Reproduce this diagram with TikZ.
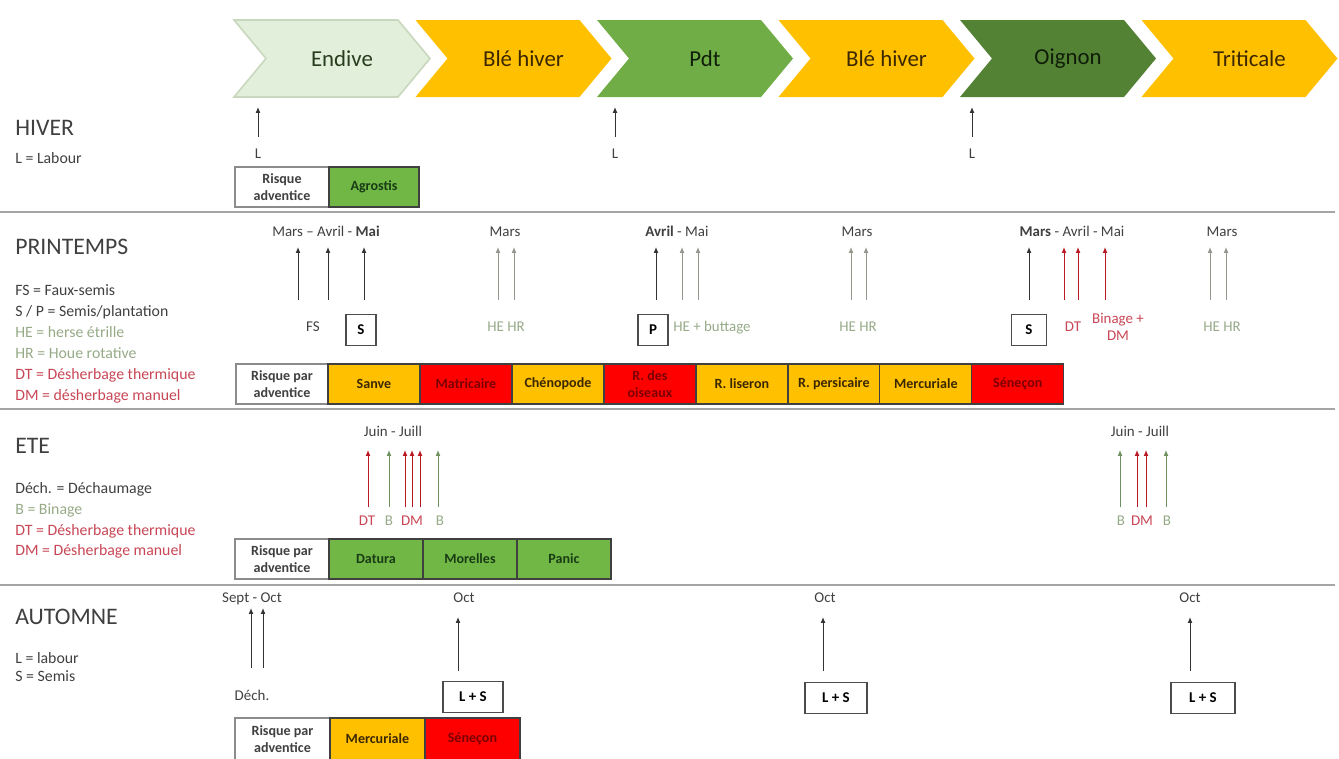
\documentclass[tikz,border=0pt]{standalone}
\usepackage{fontspec}
\setmainfont{Carlito}
\usetikzlibrary{positioning, arrows.meta}
\definecolor{orangeC}{RGB}{255, 192, 0}
\definecolor{rougeC}{RGB}{255, 0, 0}
\definecolor{vertC}{RGB}{112, 183, 70}
\definecolor{vertPdt}{RGB}{112, 173, 71}
\definecolor{vertFonce}{RGB}{84, 130, 53}
\definecolor{vertPale}{RGB}{226, 239, 218}
\definecolor{bordPale}{RGB}{200, 215, 190}
\definecolor{grisVert}{RGB}{150, 170, 135}
\definecolor{rougeT}{RGB}{200, 70, 85}
\definecolor{rougeF}{RGB}{185, 25, 35}
\definecolor{fgris}{RGB}{150, 150, 140}
\definecolor{fvert}{RGB}{110, 145, 95}
\definecolor{brunT}{RGB}{60, 40, 0}
\definecolor{rougeTxt}{RGB}{125, 0, 0}
\definecolor{vertTxt}{RGB}{25, 60, 20}
\definecolor{txtEnd}{RGB}{40, 60, 30}
\definecolor{txtFonce}{RGB}{15, 30, 8}
\definecolor{grisTxt}{RGB}{64, 64, 64}
\definecolor{sepC}{RGB}{165, 165, 165}
\tikzset{
    titre/.style={anchor=west, inner sep=0pt, text=grisTxt, font=\fontsize{13.5}{15}\selectfont},
    leg/.style={anchor=west, inner sep=0pt, text=grisTxt, font=\fontsize{9}{10}\selectfont, text height=6pt, text depth=1.8pt},
    mois/.style={inner sep=0pt, text=grisTxt, font=\fontsize{8.5}{10}\selectfont, text height=6pt, text depth=1.8pt},
    lab/.style={inner sep=0pt, text=grisTxt, font=\fontsize{8.5}{10}\selectfont, text height=6pt, text depth=1.8pt},
    chevtxt/.style={inner sep=0pt, font=\fontsize{13}{15}\selectfont},
    op/.style={draw=black!70, line width=0.6pt, minimum width=0.6cm, minimum height=0.62cm, inner sep=0pt, font=\bfseries\fontsize{8.5}{10}\selectfont},
    cell/.style={draw=black!75, line width=0.7pt, minimum width=1.86cm, minimum height=0.8cm, inner sep=1pt, outer sep=0pt, align=center, font=\bfseries\fontsize{8}{9.5}\selectfont},
    risque/.style={cell, fill=white, draw=black!45, text=grisTxt},
    orng/.style={cell, fill=orangeC, text=brunT},
    rge/.style={cell, fill=rougeC, text=rougeTxt},
    vrt/.style={cell, fill=vertC, text=vertTxt},
    fn/.style={-{Latex[length=3.4pt,width=2.8pt]}, line width=0.55pt, draw=black!80},
    fg/.style={fn, draw=fgris},
    fr/.style={fn, draw=rougeF},
    fv/.style={fn, draw=fvert},
    sepa/.style={draw=sepC, line width=1.2pt},
}
\begin{document}
\begin{tikzpicture}[x=0.02cm, y=-0.02cm]
    \useasboundingbox (0,0) rectangle (1339,758);
    \clip (0,0) rectangle (1339,758);

    \foreach \x/\f/\d/\t/\nom/\lbl in {234/vertPale/bordPale/txtEnd/cEnd/Endive,
        415.5/orangeC/none/brunT/cBle1/Blé hiver, 597/vertPdt/none/txtFonce/cPdt/Pdt,
        778.5/orangeC/none/brunT/cBle2/Blé hiver, 960/vertFonce/none/txtFonce/cOig/Oignon,
        1141.5/orangeC/none/brunT/cTri/Triticale} {
        \filldraw[fill=\f, draw=\d, line width=0.9pt] (\x,20) -- ++(164,0) -- ++(32,38.5)
            -- ++(-32,38.5) -- ++(-164,0) -- ++(32,-38.5) -- cycle;
        \node[chevtxt, text=\t] (\nom) at (\x+108,58.5) {\lbl};
    }

    % hiver
    \node[titre] (tHiv) at (15,128) {HIVER};
    \node[leg] (lHiv) at (15,160) {L = Labour};
    \foreach \n/\x in {1/258, 2/615, 3/972} {
        \coordinate (hb\n) at (\x,137);
        \coordinate (hh\n) at (\x,107);
        \draw[fn] (hb\n) -- (hh\n);
        \node[lab] (hL\n) at (\x,155) {L};
    }
    \node[risque, anchor=north west, minimum width=1.88cm] (hR) at (235,167) {Risque\\adventice};
    \node[vrt, right=0pt of hR, minimum width=1.8cm] (hAgr) {Agrostis};
    \draw[sepa] (0,212) -- (1335,212);

    % printemps
    \node[titre] (tPri) at (15,247) {PRINTEMPS};
    \node[leg] (lPri1) at (15,292) {FS = Faux-semis};
    \node[leg] (lPri2) at (15,313) {S / P = Semis/plantation};
    \node[leg, text=grisVert] (lPri3) at (15,334) {HE = herse étrille};
    \node[leg, text=grisVert] (lPri4) at (15,355) {HR = Houe rotative};
    \node[leg, text=rougeT] (lPri5) at (15,376) {DT = Désherbage thermique};
    \node[leg, text=rougeT] (lPri6) at (15,397) {DM = désherbage manuel};

    \node[mois] (pm1) at (326,233) {Mars – Avril - \textbf{Mai}};
    \node[mois] (pm2) at (505,233) {Mars};
    \node[mois] (pm3) at (677,233) {\textbf{Avril} - Mai};
    \node[mois] (pm4) at (857,233) {Mars};
    \node[mois] (pm5) at (1072,233) {\textbf{Mars} - Avril - Mai};
    \node[mois] (pm6) at (1222,233) {Mars};
    \foreach \n/\x/\s in {1/298/fn, 2/328/fn, 3/364/fn, 4/498/fg, 5/514/fg, 6/656/fn,
        7/682/fg, 8/698/fg, 9/851/fg, 10/866/fg, 11/1029/fn, 12/1064/fr, 13/1078/fr,
        14/1105/fr, 15/1210/fg, 16/1226/fg} {
        \coordinate (pb\n) at (\x,300);
        \coordinate (ph\n) at (\x,247);
        \draw[\s] (pb\n) -- (ph\n);
    }
    \node[lab] (pFS) at (313,328) {FS};
    \node[op] (pS1) at (361,330) {S};
    \node[lab, text=grisVert] (pHE1) at (506,328) {HE HR};
    \node[op] (pP) at (653,330) {P};
    \node[lab, text=grisVert, anchor=west] (pHE2) at (673,328) {HE + buttage};
    \node[lab, text=grisVert] (pHE3) at (858,328) {HE HR};
    \node[op, minimum width=0.7cm] (pS2) at (1029,330) {S};
    \node[lab, text=rougeT] (pDT) at (1073,328) {DT};
    \node[lab, text=rougeT, align=center, text height=, text depth=] (pBin) at (1118,327) {Binage +\\DM};
    \node[lab, text=grisVert] (pHE4) at (1222,328) {HE HR};

    \begin{scope}[cell/.append style={minimum width=1.84cm}]
        \node[risque, anchor=north west] (pR) at (236,364) {Risque par\\adventice};
        \node[orng, right=0pt of pR] (pSan) {Sanve};
        \node[rge, right=0pt of pSan] (pMat) {Matricaire};
        \node[orng, right=0pt of pMat] (pChe) {Chénopode};
        \node[rge, right=0pt of pChe] (pRdo) {R. des\\oiseaux};
        \node[orng, right=0pt of pRdo] (pRli) {R. liseron};
        \node[orng, right=0pt of pRli] (pRpe) {R. persicaire};
        \node[orng, right=0pt of pRpe] (pMer) {Mercuriale};
        \node[rge, right=0pt of pMer] (pSen) {Séneçon};
    \end{scope}
    \draw[sepa] (0,409) -- (1335,409);

    % ete
    \node[titre] (tEte) at (15,446) {ETE};
    \node[leg] (lEte1) at (15,490) {Déch. = Déchaumage};
    \node[leg, text=grisVert] (lEte2) at (15,511) {B = Binage};
    \node[leg, text=rougeT] (lEte3) at (15,532) {DT = Désherbage thermique};
    \node[leg, text=rougeT] (lEte4) at (15,552) {DM = Désherbage manuel};

    \node[mois] (em1) at (393,433) {Juin - Juill};
    \node[mois] (em2) at (1140,433) {Juin - Juill};
    \foreach \n/\x/\s in {1/368/fr, 2/389/fv, 3/405/fr, 4/412/fr, 5/420/fr, 6/438/fv,
        7/1120/fv, 8/1137/fr, 9/1146/fr, 10/1166/fv} {
        \coordinate (eb\n) at (\x,507);
        \coordinate (eh\n) at (\x,450);
        \draw[\s] (eb\n) -- (eh\n);
    }
    \node[lab, text=rougeT] (eDT) at (367,522) {DT};
    \node[lab, text=grisVert] (eB1) at (389,522) {B};
    \node[lab, text=rougeT] (eDM1) at (412,522) {DM};
    \node[lab, text=grisVert] (eB2) at (440,522) {B};
    \node[lab, text=grisVert] (eB3) at (1121,522) {B};
    \node[lab, text=rougeT] (eDM2) at (1142,522) {DM};
    \node[lab, text=grisVert] (eB4) at (1167,522) {B};

    \begin{scope}[cell/.append style={minimum width=1.88cm}]
        \node[risque, anchor=north west] (eR) at (235,539) {Risque par\\adventice};
        \node[vrt, right=0pt of eR] (eDat) {Datura};
        \node[vrt, right=0pt of eDat] (eMor) {Morelles};
        \node[vrt, right=0pt of eMor] (ePan) {Panic};
    \end{scope}
    \draw[sepa] (0,585) -- (1335,585);

    % automne
    \node[titre] (tAut) at (15,617) {AUTOMNE};
    \node[leg] (lAut1) at (15,660) {L = labour};
    \node[leg] (lAut2) at (15,678) {S = Semis};

    \node[mois] (am1) at (252,599) {Sept - Oct};
    \node[mois] (am2) at (464,599) {Oct};
    \node[mois] (am3) at (825,599) {Oct};
    \node[mois] (am4) at (1190,599) {Oct};
    \foreach \n/\x/\t/\h in {1/251/668/608, 2/263/668/608, 3/458/671/617, 4/823/671/617, 5/1190/671/617} {
        \coordinate (ab\n) at (\x,\t);
        \coordinate (ah\n) at (\x,\h);
        \draw[fn] (ab\n) -- (ah\n);
    }
    \node[lab] (aDec) at (252,697) {Déch.};
    \node[op, minimum width=1.2cm] (aLS1) at (473,697) {L + S};
    \node[op, minimum width=1.24cm] (aLS2) at (836,698) {L + S};
    \node[op, minimum width=1.28cm] (aLS3) at (1203,698) {L + S};

    \begin{scope}[cell/.append style={minimum width=1.9cm, minimum height=0.84cm}]
        \node[risque, anchor=north west] (aR) at (235,718) {Risque par\\adventice};
        \node[orng, right=0pt of aR] (aMer) {Mercuriale};
        \node[rge, right=0pt of aMer] (aSen) {Séneçon};
    \end{scope}
\end{tikzpicture}
\end{document}
